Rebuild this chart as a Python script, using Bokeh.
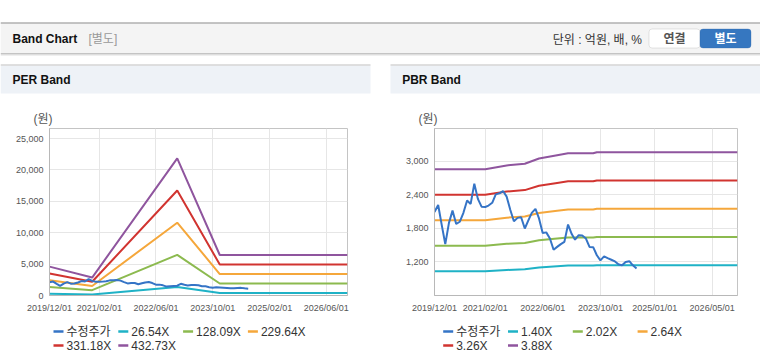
import calendar
from datetime import datetime
import pandas as pd
from bokeh.plotting import figure
from bokeh.layouts import column, row
from bokeh.models import (Range1d, FixedTicker, DatetimeTickFormatter, NumeralTickFormatter,
                          BoxAnnotation)
from bokeh.core.properties import value
from bokeh.embed import file_html
from bokeh.resources import INLINE

FONT = "Liberation Sans, Noto Sans CJK KR, sans-serif"

# ---------------- data ----------------
price_label = "수정주가"
price_start = "2019-12-01"
price = [2095, 2220, 1850, 1520, 1900, 2120, 1880, 1920, 2080, 2300, 2240, 2600,
         2330, 2190, 2185, 2210, 2260, 2410, 2430, 2470, 2370, 2130, 1930, 1990,
         2000, 1800, 1950, 2080, 2150, 1980, 1720, 1730, 1620, 1420, 1470, 1520,
         1560, 1870, 1700, 1600, 1680, 1675, 1620, 1470, 1465, 1320, 1230, 1300,
         1270, 1240, 1210, 1160, 1140, 1200, 1215, 1140, 1085]

per_dates = ["2019-12-01", "2020-12-01", "2022-12-01", "2023-12-01", "2026-12-01"]
per_labels = ["26.54X", "128.09X", "229.64X", "331.18X", "432.73X"]
per_2654 = [282, 175, 1340, 395, 395]
per_12809 = [1362, 845, 6468, 1909, 1909]
per_22964 = [2441, 1516, 11597, 3422, 3422]
per_33118 = [3520, 2186, 16725, 4935, 4935]
per_43273 = [4600, 2856, 21853, 6448, 6448]

pbr_dates = ["2019-12-01", "2021-02-01", "2021-08-01", "2022-01-01", "2022-05-01",
             "2022-10-01", "2023-01-01", "2023-08-01", "2023-09-01", "2026-12-01"]
pbr_labels = ["1.40X", "2.02X", "2.64X", "3.26X", "3.88X"]
pbr_140 = [1032, 1032, 1057, 1068, 1102, 1123, 1135, 1135, 1142, 1142]
pbr_202 = [1489, 1489, 1525, 1541, 1590, 1620, 1638, 1638, 1648, 1648]
pbr_264 = [1946, 1946, 1993, 2014, 2078, 2117, 2141, 2141, 2154, 2154]
pbr_326 = [2403, 2403, 2461, 2487, 2566, 2615, 2644, 2644, 2660, 2660]
pbr_388 = [2860, 2860, 2929, 2960, 3054, 3112, 3147, 3147, 3166, 3166]

per_xticks = ["2019-12-01", "2021-02-01", "2022-06-01", "2023-10-01", "2025-02-01", "2026-06-01"]
pbr_xticks = ["2019-12-01", "2021-02-01", "2022-06-01", "2023-10-01", "2025-01-01", "2026-05-01"]
per_yticks = [0, 5000, 10000, 15000, 20000, 25000]
pbr_yticks = [1200, 1800, 2400, 3000]
x_span = ["2019-12-01", "2026-12-01"]

COLORS = ["#3574c6", "#1fb2c6", "#8cba4f", "#f5a73b", "#d13430", "#8f559e"]


def dt(s):
    return datetime.strptime(s, "%Y-%m-%d")


def ms(s):
    return calendar.timegm(dt(s).timetuple()) * 1000.0


price_dates = list(pd.date_range(price_start, periods=len(price), freq="MS"))


def chart(lb, rb, xticks, yticks, yr, band_dates, bands):
    p = figure(width=380, height=191, x_axis_type="datetime",
               x_range=Range1d(dt(x_span[0]), dt(x_span[1])),
               y_range=Range1d(*yr), output_backend="svg", toolbar_location=None,
               min_border_left=lb, min_border_right=rb, min_border_top=1,
               min_border_bottom=23, background_fill_color="white",
               border_fill_color="white")
    p.outline_line_color = "#c4c4c4"
    p.outline_line_width = 1
    p.xgrid.grid_line_color = "#e6e6e6"
    p.ygrid.grid_line_color = "#e6e6e6"
    p.xaxis.ticker = FixedTicker(ticks=[ms(t) for t in xticks])
    fmt = "%Y/%m/%d"
    p.xaxis.formatter = DatetimeTickFormatter(
        milliseconds=fmt, seconds=fmt, minsec=fmt, minutes=fmt, hourmin=fmt,
        hours=fmt, days=fmt, months=fmt, years=fmt, strip_leading_zeros=False)
    p.yaxis.ticker = FixedTicker(ticks=yticks)
    p.yaxis.formatter = NumeralTickFormatter(format="0,0")
    for ax in (p.xaxis, p.yaxis):
        ax.major_tick_line_color = None
        ax.minor_tick_line_color = None
        ax.major_tick_out = 0
        ax.major_tick_in = 0
        ax.minor_tick_out = 0
        ax.axis_line_color = "#b8b8b8"
        ax.major_label_text_font = FONT
        ax.major_label_text_font_size = "9px"
        ax.major_label_text_color = "#555555"
    p.xaxis.major_label_standoff = 7
    p.yaxis.major_label_standoff = 6
    for i, b in enumerate(bands):
        p.line([dt(d) for d in band_dates], b, color=COLORS[i + 1], line_width=2)
    p.line(price_dates, price, color=COLORS[0], line_width=2)
    return p


def legend_fig(names, x0, lb, rb):
    # frame of this figure is aligned with the chart frame above it;
    # ranges are set in local pixel units so the legend sits where the reference has it
    lf = figure(width=380, height=46, x_range=Range1d(lb, 380 - rb), y_range=Range1d(46, 0),
                output_backend="svg", toolbar_location=None, min_border_left=lb,
                min_border_right=rb, min_border_top=0, min_border_bottom=0,
                x_axis_location=None, y_axis_location=None, outline_line_color=None,
                background_fill_color="white", border_fill_color="white")
    lf.grid.visible = False
    pitch, row_h, ncol = 64.8, 14, 4
    xs = [x0 + (i % ncol) * pitch for i in range(len(names))]
    ys = [13 + (i // ncol) * row_h for i in range(len(names))]
    lf.segment(x0=xs, y0=ys, x1=[x + 10 for x in xs], y1=ys,
               line_color=COLORS[:len(names)], line_width=2.5)
    lf.text(x=[x + 13 for x in xs], y=ys, text=names, text_font=value(FONT),
            text_font_size=value("12px"), text_color="#333333",
            text_align="left", text_baseline="middle")
    return lf


left = chart(49, 33, per_xticks, per_yticks, (0, 26600), per_dates,
             [per_2654, per_12809, per_22964, per_33118, per_43273])
right = chart(54, 23, pbr_xticks, pbr_yticks, (600, 3590), pbr_dates,
              [pbr_140, pbr_202, pbr_264, pbr_326, pbr_388])
left_leg = legend_fig([price_label] + per_labels, 53, 49, 33)
right_leg = legend_fig([price_label] + pbr_labels, 62.7, 54, 23)

# ---------------- header ----------------
h = figure(width=760, height=127, x_range=Range1d(0, 760), y_range=Range1d(127, 0),
           output_backend="svg", toolbar_location=None, min_border=0,
           x_axis_location=None, y_axis_location=None, outline_line_color=None,
           background_fill_color="white", border_fill_color="white")
h.grid.visible = False
h.quad(left=[0], right=[760], top=[22.5], bottom=[52.5], fill_color="#f4f4f4", line_color=None)
h.segment(x0=[0], y0=[22.5], x1=[760], y1=[22.5], line_color="#b0b0b0", line_width=1.5)
h.segment(x0=[0, 0, 0], y0=[53, 54, 55], x1=[760, 760, 760], y1=[53, 54, 55],
          line_color=["#c4c4c4", "#dedede", "#efefef"], line_width=1)
h.quad(left=[0, 390], right=[370, 760], top=[65, 65], bottom=[93, 93],
       fill_color="#eef2f7", line_color=None)
h.segment(x0=[0, 390], y0=[64.5, 64.5], x1=[370, 760], y1=[64.5, 64.5],
          line_color="#d4d4d4", line_width=1.5)
h.add_layout(BoxAnnotation(left=648.5, right=699.5, top=28.5, bottom=47.5,
                           fill_color="white", fill_alpha=1, line_color="#a8a8a8",
                           line_width=1, border_radius=3, level="annotation"))
h.add_layout(BoxAnnotation(left=699.5, right=750.5, top=28.5, bottom=47.5,
                           fill_color="#3677c0", fill_alpha=1, line_color="#2d65a8",
                           line_width=1, border_radius=3, level="annotation"))


def txt(x, y, s, size="12px", style="normal", color="#111111", align="left", level="glyph"):
    r = h.text(x=[x], y=[y], text=[s], text_font=value(FONT), text_font_size=value(size),
               text_font_style=style, text_color=color, text_align=align,
               text_baseline="middle")
    r.level = level


txt(12, 38.5, "Band Chart", style="bold")
txt(88, 38.5, "[별도]", color="#999999")
txt(641.5, 39.5, "단위 : 억원, 배, %", color="#333333", align="right")
txt(674, 38.5, "연결", style="bold", color="#555555", align="center", level="overlay")
txt(725, 38.5, "별도", style="bold", color="#ffffff", align="center", level="overlay")
txt(12, 79.5, "PER Band", style="bold")
txt(401.7, 79.5, "PBR Band", style="bold")
txt(33, 118, "(원)", color="#555555")
txt(418, 118, "(원)", color="#555555")

layout = column(h, row(column(left, left_leg), column(right, right_leg)))
open("out.html", "w").write(file_html(layout, INLINE))
